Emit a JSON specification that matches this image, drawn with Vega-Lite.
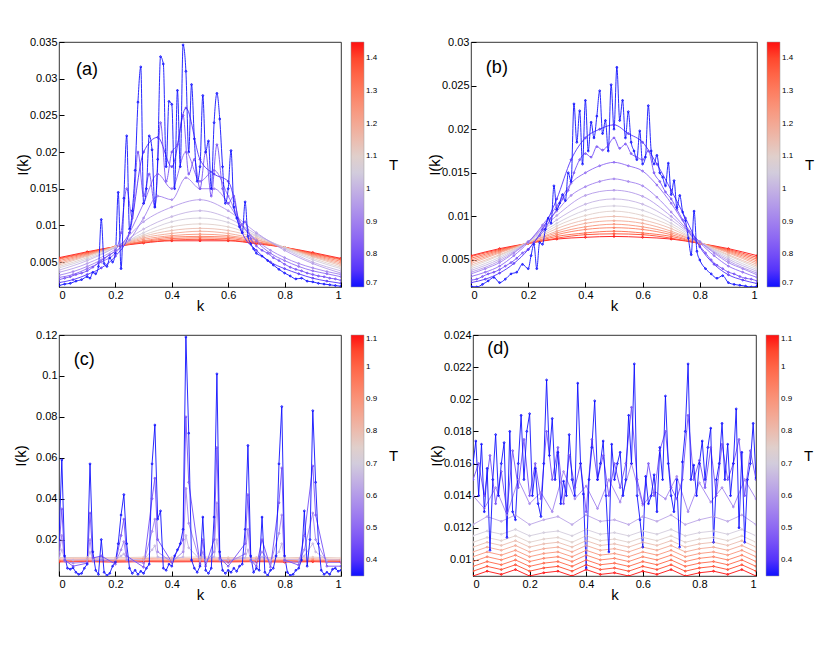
{
  "$schema": "https://vega.github.io/schema/vega-lite/v6.json",
  "background": "white",
  "padding": {"left": 12, "top": 35, "right": 5, "bottom": 5},
  "config": {
    "font": "Liberation Sans",
    "view": {"stroke": "#000", "strokeWidth": 0.8},
    "axis": {"grid": false, "domain": false, "tickSize": -5, "tickColor": "#000", "labelPadding": 7, "labelFontSize": 11, "labelColor": "#000", "labelOverlap": false, "titleFontSize": 15, "titleFontWeight": "normal", "titleColor": "#000"},
    "axisY": {"titlePadding": 0},
    "axisX": {"titlePadding": -2},
    "legend": {"orient": "right", "offset": 10, "gradientThickness": 13, "labelFontSize": 8, "labelColor": "#000", "labelOffset": 6, "labelOverlap": false, "titleFontSize": 15, "titleFontWeight": "normal", "titleColor": "#000", "titleOrient": "right", "titleAnchor": "middle", "titlePadding": 12, "gradientStrokeColor": "#999", "gradientStrokeWidth": 0.5}
  },
  "datasets": {
    "pa": [
      {"k":0,"a":0.0056,"b":0.0055,"c":0.0054,"d":0.0052,"e":0.005,"f":0.0048,"g":0.0046,"h":0.0044,"i":0.0042,"j":0.0039,"l":0.0036,"m":0.0032,"o":0.0029,"n":0.0026,"p":0.0022,"z":0.0018},
      {"k":0.02,"n":0.0028,"z":0.002},
      {"k":0.04,"n":0.003,"z":0.0021},
      {"k":0.05,"m":0.0037,"o":0.0033,"p":0.0026},
      {"k":0.06,"n":0.0033,"z":0.0024},
      {"k":0.08,"n":0.0035,"z":0.0026},
      {"k":0.1,"a":0.0064,"b":0.0063,"c":0.0062,"d":0.0061,"e":0.006,"f":0.0059,"g":0.0058,"h":0.0056,"i":0.0054,"j":0.0052,"l":0.0048,"m":0.0044,"o":0.0041,"n":0.0038,"p":0.0033,"z":0.003},
      {"k":0.11,"z":0.0028},
      {"k":0.12,"n":0.0043,"z":0.0036},
      {"k":0.13,"z":0.0034},
      {"k":0.14,"n":0.0049,"z":0.0044},
      {"k":0.15,"m":0.0053,"o":0.005,"p":0.0042,"z":0.0108},
      {"k":0.16,"n":0.0055,"z":0.0048},
      {"k":0.17,"z":0.0044},
      {"k":0.18,"n":0.006,"z":0.0056},
      {"k":0.19,"z":0.005},
      {"k":0.2,"a":0.0071,"b":0.0071,"c":0.0071,"d":0.0071,"e":0.0071,"f":0.0071,"g":0.0071,"h":0.0071,"i":0.007,"j":0.007,"l":0.0068,"m":0.0065,"o":0.0062,"n":0.0066,"p":0.0058,"z":0.0062},
      {"k":0.21,"z":0.0145},
      {"k":0.22,"n":0.009,"z":0.0041},
      {"k":0.23,"z":0.0137},
      {"k":0.24,"n":0.015,"z":0.0222},
      {"k":0.25,"m":0.008,"o":0.009,"p":0.009,"z":0.0095},
      {"k":0.26,"n":0.011,"z":0.012},
      {"k":0.27,"z":0.0175},
      {"k":0.28,"n":0.02,"z":0.0268},
      {"k":0.29,"z":0.0316},
      {"k":0.3,"a":0.0076,"b":0.0077,"c":0.0078,"d":0.0079,"e":0.0081,"f":0.0083,"g":0.0085,"h":0.0087,"i":0.009,"j":0.0095,"l":0.0105,"m":0.011,"o":0.013,"n":0.014,"p":0.02,"z":0.013},
      {"k":0.31,"z":0.015},
      {"k":0.32,"n":0.017,"z":0.0222},
      {"k":0.33,"z":0.0203},
      {"k":0.34,"n":0.0125,"z":0.0125},
      {"k":0.35,"m":0.014,"o":0.017,"p":0.022,"z":0.019},
      {"k":0.36,"n":0.024,"z":0.033},
      {"k":0.37,"z":0.032},
      {"k":0.38,"n":0.016,"z":0.018},
      {"k":0.39,"z":0.0269},
      {"k":0.4,"a":0.0079,"b":0.008,"c":0.0082,"d":0.0084,"e":0.0086,"f":0.0089,"g":0.0093,"h":0.0098,"i":0.0105,"j":0.0112,"l":0.0125,"m":0.0135,"o":0.015,"n":0.02,"p":0.018,"z":0.0265},
      {"k":0.41,"z":0.015},
      {"k":0.42,"n":0.021,"z":0.0284},
      {"k":0.43,"z":0.018},
      {"k":0.44,"n":0.025,"z":0.0346},
      {"k":0.45,"m":0.0165,"o":0.02,"p":0.026,"z":0.031},
      {"k":0.46,"n":0.017,"z":0.02},
      {"k":0.47,"z":0.0292},
      {"k":0.48,"n":0.019,"z":0.0218},
      {"k":0.49,"z":0.016},
      {"k":0.5,"a":0.0079,"b":0.0081,"c":0.0083,"d":0.0085,"e":0.0088,"f":0.0092,"g":0.0096,"h":0.0102,"i":0.011,"j":0.012,"l":0.0135,"m":0.015,"o":0.016,"n":0.015,"p":0.019,"z":0.018},
      {"k":0.51,"z":0.0277},
      {"k":0.52,"n":0.02,"z":0.02},
      {"k":0.53,"z":0.0215},
      {"k":0.54,"n":0.014,"z":0.015},
      {"k":0.55,"m":0.015,"o":0.0175,"p":0.017,"z":0.024},
      {"k":0.56,"n":0.021,"z":0.028},
      {"k":0.57,"z":0.0245},
      {"k":0.58,"n":0.015,"z":0.018},
      {"k":0.59,"z":0.013},
      {"k":0.6,"a":0.0079,"b":0.008,"c":0.0082,"d":0.0084,"e":0.0086,"f":0.0089,"g":0.0093,"h":0.0098,"i":0.0104,"j":0.011,"l":0.012,"m":0.013,"o":0.014,"n":0.013,"p":0.016,"z":0.015},
      {"k":0.61,"z":0.0202},
      {"k":0.62,"n":0.014,"z":0.0125},
      {"k":0.63,"z":0.011},
      {"k":0.64,"n":0.01,"z":0.0098},
      {"k":0.65,"m":0.01,"o":0.01,"p":0.009,"z":0.009},
      {"k":0.66,"n":0.0105,"z":0.0132},
      {"k":0.67,"z":0.0085},
      {"k":0.68,"n":0.0082,"z":0.0075},
      {"k":0.69,"z":0.0068},
      {"k":0.7,"a":0.0075,"b":0.0076,"c":0.0077,"d":0.0078,"e":0.008,"f":0.0081,"g":0.0083,"h":0.0085,"i":0.0086,"j":0.0088,"l":0.009,"m":0.008,"o":0.0078,"n":0.0072,"p":0.0066,"z":0.0062},
      {"k":0.72,"n":0.0066,"z":0.0058},
      {"k":0.74,"n":0.0062,"z":0.0052},
      {"k":0.75,"m":0.0066,"o":0.0062,"p":0.005},
      {"k":0.76,"n":0.0056,"z":0.0046},
      {"k":0.78,"n":0.0052,"z":0.004},
      {"k":0.8,"a":0.007,"b":0.007,"c":0.007,"d":0.007,"e":0.007,"f":0.007,"g":0.007,"h":0.007,"i":0.0069,"j":0.0068,"l":0.0066,"m":0.0056,"o":0.0052,"n":0.0047,"p":0.0041,"z":0.0035},
      {"k":0.82,"n":0.0043,"z":0.0031},
      {"k":0.84,"n":0.004,"z":0.0027},
      {"k":0.85,"m":0.0048,"o":0.0044,"p":0.0034},
      {"k":0.86,"n":0.0038,"z":0.0028},
      {"k":0.88,"n":0.0035,"z":0.0024},
      {"k":0.9,"a":0.0063,"b":0.0062,"c":0.0061,"d":0.006,"e":0.0059,"f":0.0058,"g":0.0057,"h":0.0055,"i":0.0053,"j":0.005,"l":0.0048,"m":0.0042,"o":0.0038,"n":0.0033,"p":0.0028,"z":0.0023},
      {"k":0.92,"n":0.0031,"z":0.0021},
      {"k":0.94,"n":0.003,"z":0.002},
      {"k":0.95,"m":0.0037,"o":0.0034,"p":0.0024},
      {"k":0.96,"n":0.0028,"z":0.0019},
      {"k":0.98,"n":0.0027,"z":0.0018},
      {"k":1,"a":0.0055,"b":0.0054,"c":0.0053,"d":0.0051,"e":0.0049,"f":0.0047,"g":0.0045,"h":0.0043,"i":0.0041,"j":0.0038,"l":0.0035,"m":0.0033,"o":0.003,"n":0.0025,"p":0.0021,"z":0.0017}
    ],
    "pb": [
      {"k":0,"a":0.0055,"b":0.0054,"c":0.0052,"d":0.005,"e":0.0048,"f":0.0046,"g":0.0044,"h":0.0042,"i":0.004,"j":0.0038,"l":0.0036,"m":0.0034,"o":0.0031,"n":0.0027,"p":0.0024,"z":0.002},
      {"k":0.02,"n":0.0028,"z":0.0019},
      {"k":0.04,"n":0.0031,"z":0.0022},
      {"k":0.05,"m":0.004,"o":0.0036,"p":0.0028},
      {"k":0.06,"n":0.0034,"z":0.0026},
      {"k":0.08,"n":0.0036,"z":0.003},
      {"k":0.1,"a":0.0063,"b":0.0062,"c":0.0061,"d":0.006,"e":0.0059,"f":0.0058,"g":0.0056,"h":0.0055,"i":0.0053,"j":0.0051,"l":0.0049,"m":0.0047,"o":0.0043,"n":0.0039,"p":0.0035,"z":0.0024},
      {"k":0.12,"n":0.0043,"z":0.0028},
      {"k":0.14,"n":0.0047,"z":0.0034},
      {"k":0.15,"m":0.0058,"o":0.0055,"p":0.0046},
      {"k":0.16,"n":0.0052,"z":0.0036},
      {"k":0.18,"n":0.0058,"z":0.0045},
      {"k":0.2,"a":0.0069,"b":0.0069,"c":0.0069,"d":0.0069,"e":0.007,"f":0.007,"g":0.007,"h":0.007,"i":0.0071,"j":0.0071,"l":0.0071,"m":0.0071,"o":0.007,"n":0.0062,"p":0.0062,"z":0.004},
      {"k":0.21,"z":0.0055},
      {"k":0.22,"n":0.007,"z":0.0068},
      {"k":0.23,"z":0.004},
      {"k":0.24,"n":0.0078,"z":0.007},
      {"k":0.25,"m":0.0088,"o":0.009,"p":0.0085,"z":0.0068},
      {"k":0.26,"n":0.0086,"z":0.0085},
      {"k":0.27,"z":0.0098},
      {"k":0.28,"n":0.0098,"z":0.0092},
      {"k":0.29,"z":0.0135},
      {"k":0.3,"a":0.0074,"b":0.0075,"c":0.0077,"d":0.0079,"e":0.0081,"f":0.0083,"g":0.0086,"h":0.0089,"i":0.0092,"j":0.0096,"l":0.0101,"m":0.0106,"o":0.0112,"n":0.0108,"p":0.012,"z":0.0108},
      {"k":0.31,"z":0.0115},
      {"k":0.32,"n":0.012,"z":0.0125},
      {"k":0.33,"z":0.0118},
      {"k":0.34,"n":0.013,"z":0.015},
      {"k":0.35,"m":0.0124,"o":0.0138,"p":0.0165,"z":0.014},
      {"k":0.36,"n":0.015,"z":0.0229},
      {"k":0.37,"z":0.0185},
      {"k":0.38,"n":0.0165,"z":0.0221},
      {"k":0.39,"z":0.016},
      {"k":0.4,"a":0.0076,"b":0.0079,"c":0.0081,"d":0.0085,"e":0.0088,"f":0.0092,"g":0.0096,"h":0.0101,"i":0.0107,"j":0.0114,"l":0.0124,"m":0.0134,"o":0.015,"n":0.0172,"p":0.019,"z":0.0233},
      {"k":0.41,"z":0.0175},
      {"k":0.42,"n":0.0168,"z":0.0208},
      {"k":0.43,"z":0.019},
      {"k":0.44,"n":0.018,"z":0.0215},
      {"k":0.45,"m":0.014,"o":0.0158,"p":0.02,"z":0.0244},
      {"k":0.46,"n":0.0176,"z":0.0195},
      {"k":0.47,"z":0.021},
      {"k":0.48,"n":0.0182,"z":0.0175},
      {"k":0.49,"z":0.0251},
      {"k":0.5,"a":0.0077,"b":0.008,"c":0.0083,"d":0.0087,"e":0.0091,"f":0.0095,"g":0.01,"h":0.0106,"i":0.0112,"j":0.012,"l":0.013,"m":0.0143,"o":0.0162,"n":0.019,"p":0.0205,"z":0.02},
      {"k":0.51,"z":0.0271},
      {"k":0.52,"n":0.0178,"z":0.021},
      {"k":0.53,"z":0.0233},
      {"k":0.54,"n":0.0183,"z":0.019},
      {"k":0.55,"m":0.014,"o":0.0158,"p":0.0195,"z":0.022},
      {"k":0.56,"n":0.0172,"z":0.0185},
      {"k":0.57,"z":0.0175},
      {"k":0.58,"n":0.0168,"z":0.0165},
      {"k":0.59,"z":0.0198},
      {"k":0.6,"a":0.0076,"b":0.0079,"c":0.0081,"d":0.0085,"e":0.0088,"f":0.0092,"g":0.0096,"h":0.0101,"i":0.0107,"j":0.0114,"l":0.0123,"m":0.0135,"o":0.0152,"n":0.0165,"p":0.0185,"z":0.016},
      {"k":0.61,"z":0.0168},
      {"k":0.62,"n":0.0175,"z":0.0227},
      {"k":0.63,"z":0.0175},
      {"k":0.64,"n":0.015,"z":0.016},
      {"k":0.65,"m":0.0122,"o":0.0136,"p":0.016,"z":0.017},
      {"k":0.66,"n":0.014,"z":0.015},
      {"k":0.67,"z":0.0145},
      {"k":0.68,"n":0.0128,"z":0.0135},
      {"k":0.69,"z":0.0161},
      {"k":0.7,"a":0.0074,"b":0.0075,"c":0.0077,"d":0.0079,"e":0.0081,"f":0.0083,"g":0.0086,"h":0.0089,"i":0.0092,"j":0.0096,"l":0.01,"m":0.0105,"o":0.0115,"n":0.012,"p":0.013,"z":0.0125},
      {"k":0.71,"z":0.0141},
      {"k":0.72,"n":0.0108,"z":0.011},
      {"k":0.73,"z":0.0124},
      {"k":0.74,"n":0.0096,"z":0.0105},
      {"k":0.75,"m":0.0087,"o":0.009,"p":0.0098,"z":0.0095},
      {"k":0.76,"n":0.0083,"z":0.0075},
      {"k":0.77,"z":0.0056},
      {"k":0.78,"n":0.0074,"z":0.0106},
      {"k":0.79,"z":0.006},
      {"k":0.8,"a":0.0069,"b":0.0069,"c":0.0069,"d":0.0069,"e":0.007,"f":0.007,"g":0.007,"h":0.007,"i":0.0071,"j":0.0071,"l":0.0071,"m":0.0071,"o":0.007,"n":0.0066,"p":0.0065,"z":0.005},
      {"k":0.82,"n":0.0058,"z":0.004},
      {"k":0.84,"n":0.005,"z":0.0034},
      {"k":0.85,"m":0.0058,"o":0.0055,"p":0.0045},
      {"k":0.86,"n":0.0044,"z":0.0029},
      {"k":0.88,"n":0.004,"z":0.0032},
      {"k":0.9,"a":0.0063,"b":0.0062,"c":0.0061,"d":0.006,"e":0.0059,"f":0.0058,"g":0.0056,"h":0.0055,"i":0.0053,"j":0.0051,"l":0.0049,"m":0.0047,"o":0.0043,"n":0.0036,"p":0.0033,"z":0.0024},
      {"k":0.92,"n":0.0034,"z":0.0022},
      {"k":0.94,"n":0.0031,"z":0.0021},
      {"k":0.95,"m":0.004,"o":0.0036,"p":0.0027},
      {"k":0.96,"n":0.0029,"z":0.002},
      {"k":0.98,"n":0.0028,"z":0.0019},
      {"k":1,"a":0.0055,"b":0.0053,"c":0.0051,"d":0.0049,"e":0.0047,"f":0.0045,"g":0.0043,"h":0.0041,"i":0.0039,"j":0.0037,"l":0.0035,"m":0.0033,"o":0.003,"n":0.0026,"p":0.0023,"z":0.002}
    ],
    "pc": [
      {"k":0,"a":0.0091,"b":0.0095,"c":0.0099,"d":0.0105,"e":0.0112,"u":0.011,"v":0.012,"w":0.015,"z":0.02},
      {"k":0.01,"u":0.015,"v":0.022,"w":0.035,"z":0.059},
      {"k":0.02,"u":0.0105,"v":0.0095,"w":0.01,"z":0.012},
      {"k":0.03,"z":0.006},
      {"k":0.04,"z":0.0055},
      {"k":0.05,"u":0.01,"v":0.0085,"w":0.007,"z":0.0062},
      {"k":0.06,"z":0.004},
      {"k":0.07,"z":0.003},
      {"k":0.08,"z":0.0035},
      {"k":0.09,"z":0.006},
      {"k":0.1,"a":0.0092,"b":0.0096,"c":0.01,"d":0.0106,"e":0.0113,"u":0.0102,"v":0.009,"w":0.0085,"z":0.008},
      {"k":0.11,"u":0.014,"v":0.02,"w":0.033,"z":0.057},
      {"k":0.12,"u":0.0104,"v":0.0095,"w":0.011,"z":0.014},
      {"k":0.13,"z":0.005},
      {"k":0.14,"z":0.003},
      {"k":0.15,"u":0.0106,"v":0.01,"w":0.012,"z":0.02},
      {"k":0.16,"z":0.004},
      {"k":0.17,"z":0.0025},
      {"k":0.18,"z":0.0035},
      {"k":0.19,"z":0.007},
      {"k":0.2,"a":0.009,"b":0.0094,"c":0.0098,"d":0.0104,"e":0.0111,"u":0.0101,"v":0.0088,"w":0.008,"z":0.009},
      {"k":0.21,"z":0.018},
      {"k":0.22,"u":0.012,"v":0.015,"w":0.022,"z":0.032},
      {"k":0.23,"u":0.013,"v":0.019,"w":0.03,"z":0.042},
      {"k":0.24,"u":0.0105,"v":0.01,"w":0.012,"z":0.018},
      {"k":0.25,"z":0.006},
      {"k":0.26,"z":0.0035},
      {"k":0.27,"z":0.005},
      {"k":0.28,"z":0.003},
      {"k":0.29,"z":0.0045},
      {"k":0.3,"a":0.0092,"b":0.0096,"c":0.01,"d":0.0107,"e":0.0114,"u":0.01,"v":0.0085,"w":0.0065,"z":0.0035},
      {"k":0.31,"z":0.006},
      {"k":0.32,"z":0.008},
      {"k":0.33,"u":0.015,"v":0.024,"w":0.04,"z":0.057},
      {"k":0.34,"u":0.017,"v":0.03,"w":0.05,"z":0.076},
      {"k":0.35,"u":0.0115,"v":0.014,"w":0.02,"z":0.03},
      {"k":0.36,"z":0.034},
      {"k":0.37,"z":0.006},
      {"k":0.38,"z":0.005},
      {"k":0.39,"z":0.008},
      {"k":0.4,"a":0.0091,"b":0.0095,"c":0.0099,"d":0.0105,"e":0.0112,"u":0.0102,"v":0.009,"w":0.009,"z":0.007},
      {"k":0.41,"z":0.012},
      {"k":0.42,"z":0.015},
      {"k":0.43,"z":0.018},
      {"k":0.44,"u":0.0115,"v":0.014,"w":0.02,"z":0.025},
      {"k":0.45,"u":0.022,"v":0.045,"w":0.08,"z":0.119},
      {"k":0.46,"u":0.016,"v":0.028,"w":0.048,"z":0.072},
      {"k":0.47,"z":0.01},
      {"k":0.48,"z":0.006},
      {"k":0.49,"z":0.004},
      {"k":0.5,"a":0.0092,"b":0.0096,"c":0.0101,"d":0.0107,"e":0.0115,"u":0.0102,"v":0.009,"w":0.008,"z":0.007},
      {"k":0.51,"u":0.0115,"v":0.014,"w":0.02,"z":0.031},
      {"k":0.52,"u":0.0101,"v":0.0088,"w":0.007,"z":0.005},
      {"k":0.53,"z":0.0035},
      {"k":0.54,"z":0.006},
      {"k":0.55,"u":0.0115,"v":0.014,"w":0.02,"z":0.031},
      {"k":0.56,"u":0.02,"v":0.038,"w":0.065,"z":0.101},
      {"k":0.57,"u":0.0104,"v":0.01,"w":0.011,"z":0.014},
      {"k":0.58,"z":0.005},
      {"k":0.59,"z":0.0035},
      {"k":0.6,"a":0.0091,"b":0.0095,"c":0.0099,"d":0.0105,"e":0.0112,"u":0.0101,"v":0.0088,"w":0.007,"z":0.005},
      {"k":0.61,"z":0.004},
      {"k":0.62,"z":0.006},
      {"k":0.63,"z":0.0045},
      {"k":0.64,"z":0.007},
      {"k":0.65,"z":0.008},
      {"k":0.66,"u":0.011,"v":0.013,"w":0.018,"z":0.025},
      {"k":0.67,"u":0.015,"v":0.025,"w":0.042,"z":0.066},
      {"k":0.68,"u":0.0104,"v":0.0095,"w":0.01,"z":0.012},
      {"k":0.69,"z":0.004},
      {"k":0.7,"a":0.0092,"b":0.0096,"c":0.01,"d":0.0106,"e":0.0113,"u":0.0101,"v":0.0088,"w":0.007,"z":0.006},
      {"k":0.71,"z":0.005},
      {"k":0.72,"u":0.0115,"v":0.014,"w":0.02,"z":0.031},
      {"k":0.73,"z":0.004},
      {"k":0.74,"z":0.0025},
      {"k":0.75,"u":0.01,"v":0.0086,"w":0.0065,"z":0.005},
      {"k":0.76,"z":0.006},
      {"k":0.77,"z":0.012},
      {"k":0.78,"u":0.014,"v":0.023,"w":0.038,"z":0.057},
      {"k":0.79,"u":0.018,"v":0.032,"w":0.055,"z":0.085},
      {"k":0.8,"a":0.009,"b":0.0094,"c":0.0098,"d":0.0104,"e":0.0111,"u":0.0104,"v":0.0095,"w":0.01,"z":0.012},
      {"k":0.81,"z":0.004},
      {"k":0.82,"z":0.0025},
      {"k":0.83,"z":0.003},
      {"k":0.84,"z":0.005},
      {"k":0.85,"u":0.0101,"v":0.0088,"w":0.0075,"z":0.006},
      {"k":0.86,"z":0.01},
      {"k":0.87,"u":0.012,"v":0.015,"w":0.022,"z":0.034},
      {"k":0.88,"z":0.007},
      {"k":0.89,"z":0.02},
      {"k":0.9,"a":0.0092,"b":0.0096,"c":0.01,"d":0.0106,"e":0.0114,"u":0.018,"v":0.033,"w":0.056,"z":0.083},
      {"k":0.91,"u":0.014,"v":0.02,"w":0.032,"z":0.048},
      {"k":0.92,"z":0.018},
      {"k":0.93,"z":0.005},
      {"k":0.94,"z":0.003},
      {"k":0.95,"u":0.0101,"v":0.0088,"w":0.007,"z":0.004},
      {"k":0.96,"z":0.003},
      {"k":0.97,"z":0.0055},
      {"k":0.98,"z":0.006},
      {"k":0.99,"z":0.0045},
      {"k":1,"a":0.0089,"b":0.0093,"c":0.0097,"d":0.0103,"e":0.011,"u":0.01,"v":0.0088,"w":0.007,"z":0.005}
    ],
    "pd": [
      {"k":0,"a":0.009,"f":0.0093,"b":0.0096,"g":0.0099,"c":0.0102,"h":0.0105,"d":0.0108,"i":0.0111,"e":0.0115,"u":0.0122,"v":0.014,"w":0.015,"z":0.016},
      {"k":0.01,"z":0.0174},
      {"k":0.02,"w":0.016,"z":0.014},
      {"k":0.03,"z":0.0172},
      {"k":0.04,"v":0.0132,"w":0.014,"z":0.013},
      {"k":0.05,"a":0.0093,"f":0.0096,"b":0.0099,"g":0.0102,"c":0.0105,"h":0.0108,"d":0.0111,"i":0.0114,"e":0.0118,"u":0.0127,"z":0.0157},
      {"k":0.06,"w":0.0165,"z":0.0106},
      {"k":0.07,"z":0.015},
      {"k":0.08,"v":0.0145,"w":0.0135,"z":0.0178},
      {"k":0.09,"z":0.014},
      {"k":0.1,"a":0.0091,"f":0.0094,"b":0.0097,"g":0.01,"c":0.0103,"h":0.0106,"d":0.0109,"i":0.0112,"e":0.0116,"u":0.0124,"w":0.0155,"z":0.016},
      {"k":0.11,"z":0.0173},
      {"k":0.12,"v":0.0128,"w":0.013,"z":0.0114},
      {"k":0.13,"z":0.018},
      {"k":0.14,"w":0.0168,"z":0.013},
      {"k":0.15,"a":0.0094,"f":0.0097,"b":0.01,"g":0.0103,"c":0.0106,"h":0.0109,"d":0.0112,"i":0.0115,"e":0.0119,"u":0.0128,"z":0.0125},
      {"k":0.16,"v":0.015,"w":0.0145,"z":0.016},
      {"k":0.17,"z":0.019},
      {"k":0.18,"w":0.0175,"z":0.015},
      {"k":0.19,"z":0.018},
      {"k":0.2,"a":0.009,"f":0.0093,"b":0.0096,"g":0.0099,"c":0.0102,"h":0.0105,"d":0.0108,"i":0.0111,"e":0.0115,"u":0.0122,"v":0.0135,"w":0.014,"z":0.0191},
      {"k":0.21,"z":0.014},
      {"k":0.22,"w":0.016,"z":0.0157},
      {"k":0.23,"z":0.0135},
      {"k":0.24,"v":0.0142,"w":0.0138,"z":0.0127},
      {"k":0.25,"a":0.0092,"f":0.0095,"b":0.0098,"g":0.0101,"c":0.0104,"h":0.0107,"d":0.011,"i":0.0113,"e":0.0117,"u":0.0125,"z":0.016},
      {"k":0.26,"w":0.018,"z":0.0212},
      {"k":0.27,"z":0.0165},
      {"k":0.28,"v":0.013,"w":0.015,"z":0.0188},
      {"k":0.29,"z":0.015},
      {"k":0.3,"a":0.0093,"f":0.0096,"b":0.0099,"g":0.0102,"c":0.0105,"h":0.0108,"d":0.0111,"i":0.0114,"e":0.0118,"u":0.0127,"w":0.017,"z":0.0167},
      {"k":0.31,"z":0.0135},
      {"k":0.32,"v":0.0155,"w":0.0135,"z":0.0149},
      {"k":0.33,"z":0.014},
      {"k":0.34,"w":0.0165,"z":0.0178},
      {"k":0.35,"a":0.009,"f":0.0093,"b":0.0096,"g":0.0099,"c":0.0102,"h":0.0105,"d":0.0108,"i":0.0111,"e":0.0115,"u":0.0122,"z":0.015},
      {"k":0.36,"v":0.0138,"w":0.0145,"z":0.014},
      {"k":0.37,"z":0.021},
      {"k":0.38,"w":0.016,"z":0.016},
      {"k":0.39,"z":0.0141},
      {"k":0.4,"a":0.0094,"f":0.0097,"b":0.01,"g":0.0103,"c":0.0106,"h":0.0109,"d":0.0112,"i":0.0115,"e":0.0119,"u":0.0128,"v":0.0146,"w":0.013,"z":0.0095},
      {"k":0.41,"z":0.015},
      {"k":0.42,"w":0.0175,"z":0.017},
      {"k":0.43,"z":0.0199},
      {"k":0.44,"v":0.0132,"w":0.015,"z":0.015},
      {"k":0.45,"a":0.0091,"f":0.0094,"b":0.0097,"g":0.01,"c":0.0103,"h":0.0106,"d":0.0109,"i":0.0112,"e":0.0116,"u":0.0124,"z":0.016},
      {"k":0.46,"w":0.0165,"z":0.0174},
      {"k":0.47,"z":0.014},
      {"k":0.48,"v":0.015,"w":0.014,"z":0.0105},
      {"k":0.49,"z":0.0172},
      {"k":0.5,"a":0.0092,"f":0.0095,"b":0.0098,"g":0.0101,"c":0.0104,"h":0.0107,"d":0.011,"i":0.0113,"e":0.0117,"u":0.0125,"w":0.016,"z":0.015},
      {"k":0.51,"z":0.016},
      {"k":0.52,"v":0.0136,"w":0.0145,"z":0.0167},
      {"k":0.53,"z":0.014},
      {"k":0.54,"w":0.016,"z":0.015},
      {"k":0.55,"a":0.009,"f":0.0093,"b":0.0096,"g":0.0099,"c":0.0102,"h":0.0105,"d":0.0108,"i":0.0111,"e":0.0115,"u":0.0122,"z":0.019},
      {"k":0.56,"v":0.016,"w":0.0195,"z":0.016},
      {"k":0.57,"z":0.0222},
      {"k":0.58,"w":0.015,"z":0.014},
      {"k":0.59,"z":0.0125},
      {"k":0.6,"a":0.0093,"f":0.0096,"b":0.0099,"g":0.0102,"c":0.0105,"h":0.0108,"d":0.0111,"i":0.0114,"e":0.0118,"u":0.0127,"v":0.0134,"w":0.0135,"z":0.0108},
      {"k":0.61,"z":0.0152},
      {"k":0.62,"w":0.016,"z":0.0135},
      {"k":0.63,"z":0.014},
      {"k":0.64,"v":0.0143,"w":0.014,"z":0.0153},
      {"k":0.65,"a":0.0091,"f":0.0094,"b":0.0097,"g":0.01,"c":0.0103,"h":0.0106,"d":0.0109,"i":0.0112,"e":0.0116,"u":0.0124,"z":0.013},
      {"k":0.66,"w":0.0168,"z":0.017},
      {"k":0.67,"z":0.015},
      {"k":0.68,"v":0.0138,"w":0.018,"z":0.0202},
      {"k":0.69,"z":0.016},
      {"k":0.7,"a":0.0094,"f":0.0097,"b":0.01,"g":0.0103,"c":0.0106,"h":0.0109,"d":0.0112,"i":0.0115,"e":0.0119,"u":0.0128,"w":0.0145,"z":0.014},
      {"k":0.71,"z":0.013},
      {"k":0.72,"v":0.0152,"w":0.0138,"z":0.015},
      {"k":0.73,"z":0.0108},
      {"k":0.74,"w":0.015,"z":0.0161},
      {"k":0.75,"a":0.009,"f":0.0093,"b":0.0096,"g":0.0099,"c":0.0102,"h":0.0105,"d":0.0108,"i":0.0111,"e":0.0115,"u":0.0122,"z":0.018},
      {"k":0.76,"v":0.013,"w":0.019,"z":0.0222},
      {"k":0.77,"z":0.015},
      {"k":0.78,"w":0.015,"z":0.0159},
      {"k":0.79,"z":0.014},
      {"k":0.8,"a":0.0092,"f":0.0095,"b":0.0098,"g":0.0101,"c":0.0104,"h":0.0107,"d":0.011,"i":0.0113,"e":0.0117,"u":0.0125,"v":0.0148,"w":0.0162,"z":0.016},
      {"k":0.81,"z":0.0174},
      {"k":0.82,"w":0.0145,"z":0.015},
      {"k":0.83,"z":0.017},
      {"k":0.84,"v":0.0136,"w":0.017,"z":0.0182},
      {"k":0.85,"a":0.0093,"f":0.0096,"b":0.0099,"g":0.0102,"c":0.0105,"h":0.0108,"d":0.0111,"i":0.0114,"e":0.0118,"u":0.0127,"z":0.0111},
      {"k":0.86,"w":0.014,"z":0.015},
      {"k":0.87,"z":0.016},
      {"k":0.88,"v":0.0145,"w":0.0172,"z":0.0185},
      {"k":0.89,"z":0.015},
      {"k":0.9,"a":0.0091,"f":0.0094,"b":0.0097,"g":0.01,"c":0.0103,"h":0.0106,"d":0.0109,"i":0.0112,"e":0.0116,"u":0.0124,"w":0.015,"z":0.0172},
      {"k":0.91,"z":0.014},
      {"k":0.92,"v":0.0133,"w":0.016,"z":0.016},
      {"k":0.93,"z":0.0194},
      {"k":0.94,"w":0.0175,"z":0.012},
      {"k":0.95,"a":0.0094,"f":0.0097,"b":0.01,"g":0.0103,"c":0.0106,"h":0.0109,"d":0.0112,"i":0.0115,"e":0.0119,"u":0.0128,"z":0.0167},
      {"k":0.96,"v":0.015,"w":0.014,"z":0.0111},
      {"k":0.97,"z":0.015},
      {"k":0.98,"w":0.0168,"z":0.016},
      {"k":0.99,"z":0.0185},
      {"k":1,"a":0.009,"f":0.0093,"b":0.0096,"g":0.0099,"c":0.0102,"h":0.0105,"d":0.0108,"i":0.0111,"e":0.0115,"u":0.0122,"v":0.0138,"w":0.015,"z":0.0151}
    ]
  },
  "spacing": 14,
  "resolve": {"scale": {"color": "independent", "x": "independent", "y": "independent"}, "legend": {"color": "independent"}},
  "vconcat": [
    {
      "spacing": 26,
      "resolve": {"scale": {"color": "independent", "x": "independent", "y": "independent"}, "legend": {"color": "independent"}},
      "hconcat": [
        {
          "width": 282,
          "height": 245,
          "layer": [
            {
              "data": {"name": "pa"},
              "transform": [
                {"fold": ["a","b","c","d","e","f","g","h","i","j","l","m","o","n","p","z"], "as": ["s","I"]},
                {"filter": {"field": "I", "valid": true}},
                {"lookup": "s", "from": {"data": {"values": [{"s":"a","T":1.45},{"s":"b","T":1.4},{"s":"c","T":1.35},{"s":"d","T":1.3},{"s":"e","T":1.25},{"s":"f","T":1.2},{"s":"g","T":1.15},{"s":"h","T":1.1},{"s":"i","T":1.05},{"s":"j","T":1.0},{"s":"l","T":0.95},{"s":"m","T":0.9},{"s":"o","T":0.85},{"s":"n","T":0.8},{"s":"p","T":0.75},{"s":"z","T":0.7}]}, "key": "s", "fields": ["T"]}}
              ],
              "mark": {"type": "line", "interpolate": "monotone", "strokeWidth": 0.9, "clip": true, "point": {"filled": false, "size": 3, "strokeWidth": 1}},
              "encoding": {
                "x": {"field": "k", "type": "quantitative", "scale": {"domain": [0, 1], "nice": false}, "axis": {"title": "k", "values": [0, 0.2, 0.4, 0.6, 0.8, 1], "tickCount": 10, "format": "~g", "labelOverlap": false}},
                "y": {"field": "I", "type": "quantitative", "scale": {"domain": [0.0016, 0.035], "nice": false, "zero": false}, "axis": {"title": "I(k)", "values": [0.005, 0.01, 0.015, 0.02, 0.025, 0.03, 0.035], "tickCount": 10, "format": ".3~f", "labelOverlap": false, "minExtent": 29, "maxExtent": 29}},
                "color": {"field": "T", "type": "quantitative", "scale": {"domain": [0.7, 1.075, 1.45], "range": ["#1010ff", "#d9d9d9", "#ff1010"]}, "legend": {"type": "gradient", "direction": "vertical", "title": "T", "gradientLength": 245, "tickCount": 8, "format": ".2~f", "encode": {"title": {"update": {"angle": {"value": 0}, "align": {"value": "left"}, "baseline": {"value": "middle"}}}}}},
                "detail": {"field": "s"}
              }
            },
            {
              "data": {"values": [{"k": 0.06, "I": 0.0312, "lab": "(a)"}]},
              "mark": {"type": "text", "align": "left", "baseline": "middle", "fontSize": 18, "color": "#000"},
              "encoding": {"x": {"field": "k", "type": "quantitative"}, "y": {"field": "I", "type": "quantitative"}, "text": {"field": "lab"}}
            }
          ]
        },
        {
          "width": 286,
          "height": 245,
          "layer": [
            {
              "data": {"name": "pb"},
              "transform": [
                {"fold": ["a","b","c","d","e","f","g","h","i","j","l","m","o","n","p","z"], "as": ["s","I"]},
                {"filter": {"field": "I", "valid": true}},
                {"lookup": "s", "from": {"data": {"values": [{"s":"a","T":1.45},{"s":"b","T":1.4},{"s":"c","T":1.35},{"s":"d","T":1.3},{"s":"e","T":1.25},{"s":"f","T":1.2},{"s":"g","T":1.15},{"s":"h","T":1.1},{"s":"i","T":1.05},{"s":"j","T":1.0},{"s":"l","T":0.95},{"s":"m","T":0.9},{"s":"o","T":0.85},{"s":"n","T":0.8},{"s":"p","T":0.75},{"s":"z","T":0.7}]}, "key": "s", "fields": ["T"]}}
              ],
              "mark": {"type": "line", "interpolate": "monotone", "strokeWidth": 0.9, "clip": true, "point": {"filled": false, "size": 3, "strokeWidth": 1}},
              "encoding": {
                "x": {"field": "k", "type": "quantitative", "scale": {"domain": [0, 1], "nice": false}, "axis": {"title": "k", "values": [0, 0.2, 0.4, 0.6, 0.8, 1], "tickCount": 10, "format": "~g", "labelOverlap": false}},
                "y": {"field": "I", "type": "quantitative", "scale": {"domain": [0.0019, 0.03], "nice": false, "zero": false}, "axis": {"title": "I(k)", "values": [0.005, 0.01, 0.015, 0.02, 0.025, 0.03], "tickCount": 10, "format": ".3~f", "labelOverlap": false, "minExtent": 29, "maxExtent": 29}},
                "color": {"field": "T", "type": "quantitative", "scale": {"domain": [0.7, 1.075, 1.45], "range": ["#1010ff", "#d9d9d9", "#ff1010"]}, "legend": {"type": "gradient", "direction": "vertical", "title": "T", "gradientLength": 245, "tickCount": 8, "format": ".2~f", "encode": {"title": {"update": {"angle": {"value": 0}, "align": {"value": "left"}, "baseline": {"value": "middle"}}}}}},
                "detail": {"field": "s"}
              }
            },
            {
              "data": {"values": [{"k": 0.052, "I": 0.027, "lab": "(b)"}]},
              "mark": {"type": "text", "align": "left", "baseline": "middle", "fontSize": 18, "color": "#000"},
              "encoding": {"x": {"field": "k", "type": "quantitative"}, "y": {"field": "I", "type": "quantitative"}, "text": {"field": "lab"}}
            }
          ]
        }
      ]
    },
    {
      "spacing": 28,
      "resolve": {"scale": {"color": "independent", "x": "independent", "y": "independent"}, "legend": {"color": "independent"}},
      "hconcat": [
        {
          "width": 282,
          "height": 241,
          "layer": [
            {
              "data": {"name": "pc"},
              "transform": [
                {"fold": ["a","b","c","d","e","u","v","w","z"], "as": ["s","I"]},
                {"filter": {"field": "I", "valid": true}},
                {"lookup": "s", "from": {"data": {"values": [{"s":"a","T":1.1},{"s":"b","T":1.05},{"s":"c","T":0.98},{"s":"d","T":0.88},{"s":"e","T":0.78},{"s":"u","T":0.65},{"s":"v","T":0.55},{"s":"w","T":0.45},{"s":"z","T":0.35}]}, "key": "s", "fields": ["T"]}}
              ],
              "mark": {"type": "line", "strokeWidth": 0.9, "clip": true, "point": {"filled": false, "size": 3, "strokeWidth": 1}},
              "encoding": {
                "x": {"field": "k", "type": "quantitative", "scale": {"domain": [0, 1], "nice": false}, "axis": {"title": "k", "values": [0, 0.2, 0.4, 0.6, 0.8, 1], "tickCount": 10, "format": "~g", "labelOverlap": false}},
                "y": {"field": "I", "type": "quantitative", "scale": {"domain": [0.0022, 0.12], "nice": false, "zero": false}, "axis": {"title": "I(k)", "values": [0.02, 0.04, 0.06, 0.08, 0.1, 0.12], "tickCount": 10, "format": ".2~f", "labelOverlap": false, "minExtent": 31, "maxExtent": 31}},
                "color": {"field": "T", "type": "quantitative", "scale": {"domain": [0.35, 0.725, 1.1], "range": ["#1010ff", "#d9d9d9", "#ff1010"]}, "legend": {"type": "gradient", "direction": "vertical", "title": "T", "gradientLength": 241, "tickCount": 8, "format": ".2~f", "encode": {"title": {"update": {"angle": {"value": 0}, "align": {"value": "left"}, "baseline": {"value": "middle"}}}}}},
                "detail": {"field": "s"}
              }
            },
            {
              "data": {"values": [{"k": 0.052, "I": 0.1078, "lab": "(c)"}]},
              "mark": {"type": "text", "align": "left", "baseline": "middle", "fontSize": 18, "color": "#000"},
              "encoding": {"x": {"field": "k", "type": "quantitative"}, "y": {"field": "I", "type": "quantitative"}, "text": {"field": "lab"}}
            }
          ]
        },
        {
          "width": 283,
          "height": 241,
          "layer": [
            {
              "data": {"name": "pd"},
              "transform": [
                {"fold": ["a","f","b","g","c","h","d","i","e","u","v","w","z"], "as": ["s","I"]},
                {"filter": {"field": "I", "valid": true}},
                {"lookup": "s", "from": {"data": {"values": [{"s":"a","T":1.1},{"s":"f","T":1.05},{"s":"b","T":1.0},{"s":"g","T":0.95},{"s":"c","T":0.9},{"s":"h","T":0.85},{"s":"d","T":0.8},{"s":"i","T":0.75},{"s":"e","T":0.7},{"s":"u","T":0.62},{"s":"v","T":0.55},{"s":"w","T":0.45},{"s":"z","T":0.35}]}, "key": "s", "fields": ["T"]}}
              ],
              "mark": {"type": "line", "strokeWidth": 0.9, "clip": true, "point": {"filled": false, "size": 3, "strokeWidth": 1}},
              "encoding": {
                "x": {"field": "k", "type": "quantitative", "scale": {"domain": [0, 1], "nice": false}, "axis": {"title": "k", "values": [0, 0.2, 0.4, 0.6, 0.8, 1], "tickCount": 10, "format": "~g", "labelOverlap": false}},
                "y": {"field": "I", "type": "quantitative", "scale": {"domain": [0.009, 0.024], "nice": false, "zero": false}, "axis": {"title": "I(k)", "values": [0.01, 0.012, 0.014, 0.016, 0.018, 0.02, 0.022, 0.024], "tickCount": 10, "format": ".3~f", "labelOverlap": false, "minExtent": 29, "maxExtent": 29}},
                "color": {"field": "T", "type": "quantitative", "scale": {"domain": [0.35, 0.725, 1.1], "range": ["#1010ff", "#d9d9d9", "#ff1010"]}, "legend": {"type": "gradient", "direction": "vertical", "title": "T", "gradientLength": 241, "tickCount": 8, "format": ".2~f", "encode": {"title": {"update": {"angle": {"value": 0}, "align": {"value": "left"}, "baseline": {"value": "middle"}}}}}},
                "detail": {"field": "s"}
              }
            },
            {
              "data": {"values": [{"k": 0.05, "I": 0.0231, "lab": "(d)"}]},
              "mark": {"type": "text", "align": "left", "baseline": "middle", "fontSize": 18, "color": "#000"},
              "encoding": {"x": {"field": "k", "type": "quantitative"}, "y": {"field": "I", "type": "quantitative"}, "text": {"field": "lab"}}
            }
          ]
        }
      ]
    }
  ]
}
